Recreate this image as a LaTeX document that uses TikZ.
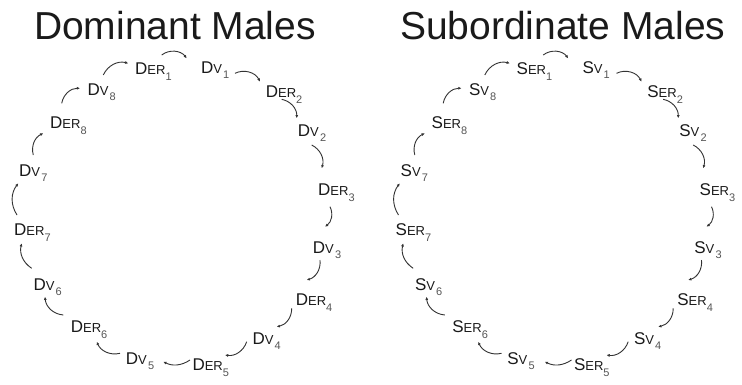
\documentclass[tikz,border=0pt]{standalone}
\usepackage{fontspec}
\setmainfont{Liberation Sans}
\usetikzlibrary{arrows.meta,calc}
\definecolor{txt}{HTML}{1A1A1A}
\definecolor{subc}{HTML}{555555}
\definecolor{arr}{HTML}{333333}
\newcommand{\lblER}[2]{{\fontsize{17}{17}\selectfont #1}{\fontsize{13}{13}\selectfont ER}\raisebox{-6.5pt}{\fontsize{11}{11}\selectfont\color{subc}#2}}
\newcommand{\lblV}[2]{{\fontsize{17}{17}\selectfont #1}{\fontsize{13}{13}\selectfont V}\kern1.2pt\raisebox{-5pt}{\fontsize{11}{11}\selectfont\color{subc}#2}}
\tikzset{
  lbl/.style={anchor=base west, inner sep=0pt, text=txt},
  ttl/.style={anchor=base, inner sep=0pt, text=txt, font=\fontsize{39}{39}\selectfont},
  conn/.style={draw=arr, line width=0.9pt, -{Latex[length=3.2pt,width=3pt]}}
}
\begin{document}
\begin{tikzpicture}[x=1pt,y=-1pt]
\path[use as bounding box, fill=white] (0,0) rectangle (742,384);
\node[ttl] (tD) at (175,39.3) {Dominant Males};
\node[ttl] (tS) at (562.7,39.3) {Subordinate Males};
\foreach \L/\sh/\p in {D/0/d, S/381.5/s}{
  \begin{scope}[xshift=\sh pt]
    \node[lbl] (\p er1) at (135,74.3)   {\lblER{\L}{1}};
    \node[lbl] (\p v1)  at (200.8,73.7) {\lblV{\L}{1}};
    \node[lbl] (\p er2) at (265.7,97.3) {\lblER{\L}{2}};
    \node[lbl] (\p v2)  at (297.7,136.7){\lblV{\L}{2}};
    \node[lbl] (\p er3) at (318,195)    {\lblER{\L}{3}};
    \node[lbl] (\p v3)  at (312.7,253.3){\lblV{\L}{3}};
    \node[lbl] (\p er4) at (295.7,305)  {\lblER{\L}{4}};
    \node[lbl] (\p v4)  at (252.3,344.3){\lblV{\L}{4}};
    \node[lbl] (\p er5) at (192.3,370)  {\lblER{\L}{5}};
    \node[lbl] (\p v5)  at (125.7,364.3){\lblV{\L}{5}};
    \node[lbl] (\p er6) at (70.7,332.3) {\lblER{\L}{6}};
    \node[lbl] (\p v6)  at (33.3,290)   {\lblV{\L}{6}};
    \node[lbl] (\p er7) at (14,235)     {\lblER{\L}{7}};
    \node[lbl] (\p v7)  at (19,176)     {\lblV{\L}{7}};
    \node[lbl] (\p er8) at (50,128.3)   {\lblER{\L}{8}};
    \node[lbl] (\p v8)  at (87.3,95)    {\lblV{\L}{8}};
    \foreach \a/\sa/\b/\eb/\bb in {
      er1/{26.7,-19.3}/v1/{-14.1,-15.4}/45,
      v1/{34.2,-0.4}/er2/{-5.7,-15.6}/45,
      er2/{16,2}/v2/{-1,-18.4}/40,
      v2/{14,8.3}/er3/{3.7,-26.7}/40,
      er3/{12,11.7}/v3/{12.3,-26.6}/40,
      v3/{7.3,6.7}/er4/{11,-25}/40,
      er4/{-4,3.3}/v4/{24.4,-17.6}/40,
      v4/{-5.6,-2.6}/er5/{32.7,-15}/40,
      er5/{-2.3,-10}/v5/{37.6,-2.6}/30,
      v5/{-5.7,-11}/er6/{26,9.4}/40,
      er6/{-7.4,-17.3}/v6/{11.7,6.7}/40,
      v6/{-1.6,-21.7}/er7/{7.7,8.3}/35,
      er7/{3,-20}/v7/{-0.7,7.3}/35,
      v7/{14.3,-21}/er8/{-6.7,5}/40,
      er8/{11.7,-25}/v8/{-7.3,-6.7}/40,
      v8/{16,-20}/er1/{-6.7,-11}/40}{
      \draw[conn] ($(\p\a.base west)+(\sa)$) to[bend left=\bb] ($(\p\b.base west)+(\eb)$);
    }
  \end{scope}
}
\end{tikzpicture}
\end{document}
